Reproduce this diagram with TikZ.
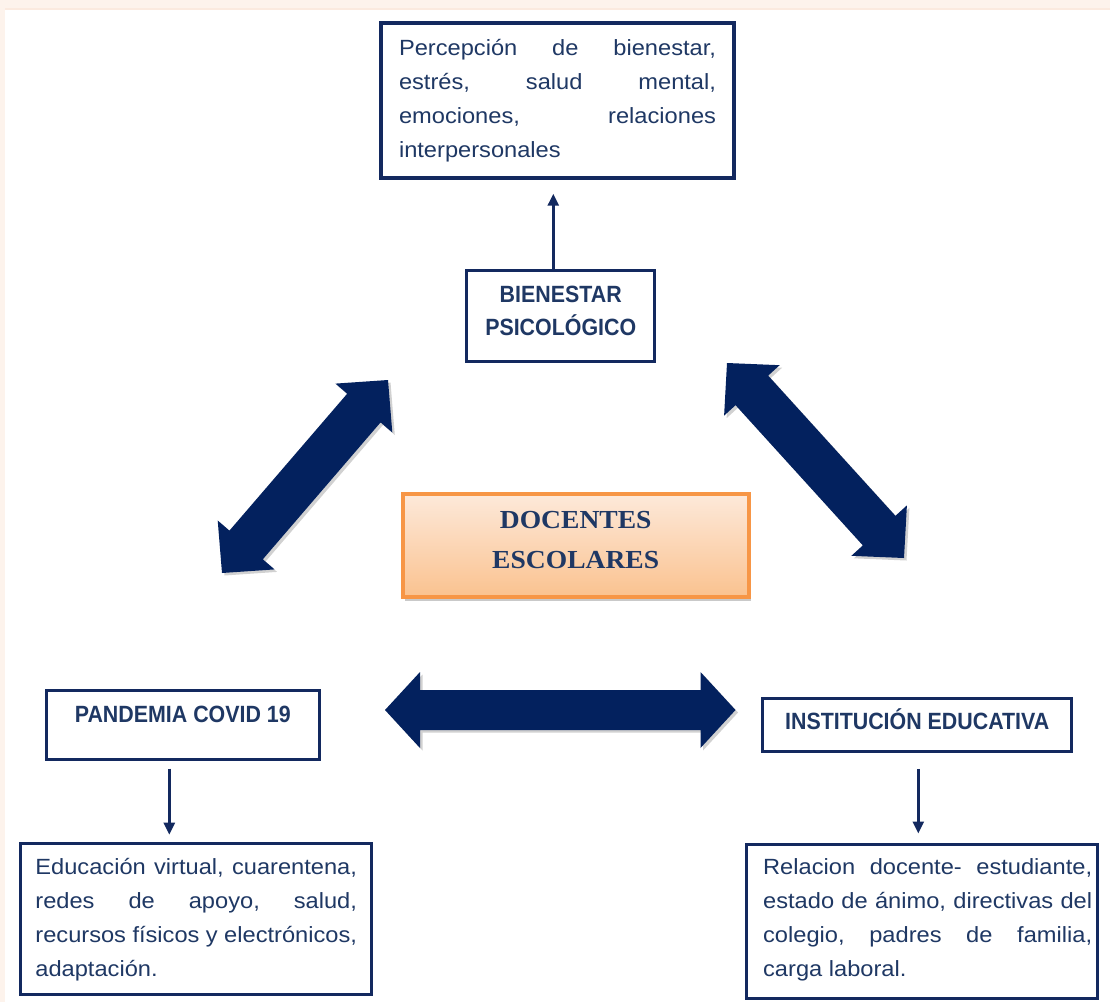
\documentclass[tikz,border=0pt]{standalone}
\usepackage{fontspec}
\setmainfont{Liberation Sans}
\newfontfamily\regfont[FakeStretch=1.075]{Liberation Sans}
\newfontfamily\boldlab[FakeStretch=0.91]{Liberation Sans}
\newfontfamily\serifbold[FakeStretch=1.06]{Liberation Serif}
\usetikzlibrary{calc,arrows.meta,shadows}
\definecolor{navyline}{HTML}{13295F}
\definecolor{navytext}{HTML}{1F3864}
\definecolor{bigarrow}{HTML}{03215E}
\definecolor{orangeline}{HTML}{F79646}
\definecolor{peachtop}{HTML}{FDE9DA}
\definecolor{peachbot}{HTML}{FAC28F}
\definecolor{bandpeach}{HTML}{FDF3EC}
\definecolor{bandline}{HTML}{FBEADF}
\newcommand\dblarrow[5]{%
  \coordinate (#1h) at ($(#1)!#3!(#2)$);
  \coordinate (#2h) at ($(#2)!#3!(#1)$);
  \begin{scope}[transform canvas={xshift=2.5pt,yshift=-2.5pt}]
  \fill[black,opacity=0.18] (#1) -- ($(#1h)!#4!90:(#2)$) -- ($(#1h)!#5!90:(#2)$) -- ($(#2h)!#5!-90:(#1)$) -- ($(#2h)!#4!-90:(#1)$) -- (#2) -- ($(#2h)!#4!90:(#1)$) -- ($(#2h)!#5!90:(#1)$) -- ($(#1h)!#5!-90:(#2)$) -- ($(#1h)!#4!-90:(#2)$) -- cycle;
  \end{scope}
  \fill[bigarrowfill] (#1) -- ($(#1h)!#4!90:(#2)$) -- ($(#1h)!#5!90:(#2)$) -- ($(#2h)!#5!-90:(#1)$) -- ($(#2h)!#4!-90:(#1)$) -- (#2) -- ($(#2h)!#4!90:(#1)$) -- ($(#2h)!#5!90:(#1)$) -- ($(#1h)!#5!-90:(#2)$) -- ($(#1h)!#4!-90:(#2)$) -- cycle;
}
\tikzset{
  plainbox/.style={draw=navyline, line width=3pt, fill=white, inner ysep=0pt},
  bodytext/.style={text=navytext, font=\regfont\fontsize{22}{34}\selectfont},
  labeltext/.style={text=navytext, font=\boldlab\bfseries\fontsize{23.5}{33.4}\selectfont},
  thinarrow/.style={draw=navyline, line width=2.7pt, -{Triangle[length=12pt,width=11pt]}},
  bigarrowfill/.style={fill=bigarrow},
}
\begin{document}
\begin{tikzpicture}[x=1pt,y=-1pt]
\useasboundingbox (0,0) rectangle (1110,1002);
\fill[white] (0,0) rectangle (1110,1002);
\fill[bandpeach] (0,0) rectangle (1110,10);
\fill[bandpeach] (0,0) rectangle (5,1002);
\fill[bandline] (5,7.5) rectangle (1110,10);

% top description box
\node[plainbox, line width=4pt, bodytext, anchor=base, inner xsep=17.7pt,
      text height=32.5pt, text depth=122.5pt] (percep) at (557.5,55.5)
  {\parbox[t]{317pt}{Percepción\hfill de\hfill bienestar,\\
   estrés,\hfill salud\hfill mental,\\
   emociones,\hfill relaciones\\
   interpersonales}};

% bienestar
\node[plainbox, labeltext, anchor=base, minimum width=188.5pt, inner xsep=0pt,
      text height=32.3pt, text depth=58.7pt] (bien) at (560.7,302.3)
  {\parbox[t]{180pt}{\centering BIENESTAR\\PSICOLÓGICO}};

% docentes
\node[anchor=base, draw=orangeline, line width=4pt, top color=peachtop, bottom color=peachbot,
      drop shadow={shadow xshift=2pt, shadow yshift=-3.5pt, opacity=0.35, fill=black!60},
      minimum width=346pt, inner xsep=0pt, inner ysep=0pt,
      text height=34.6pt, text depth=69pt, text=navytext] (doc) at (575.7,528.3)
  {\parbox[t]{320pt}{\centering\serifbold\bfseries\fontsize{26}{40}\selectfont DOCENTES\\ESCOLARES}};

% pandemia
\node[plainbox, labeltext, anchor=base, minimum width=272.7pt, inner xsep=0pt,
      text height=31.5pt, text depth=37.2pt] (pand) at (182.8,722) {PANDEMIA COVID 19};

% institucion
\node[plainbox, labeltext, anchor=base, minimum width=309.3pt, inner xsep=0pt,
      text height=30.8pt, text depth=22.8pt] (inst) at (917.2,729) {INSTITUCIÓN EDUCATIVA};

% bottom left
\node[plainbox, bodytext, anchor=base, inner xsep=14.9pt,
      text height=31.1pt, text depth=119.9pt] (edu) at (196.2,874.3)
  {\parbox[t]{321.6pt}{Educación\hfill virtual,\hfill cuarentena,\\
   redes\hfill de\hfill apoyo,\hfill salud,\\
   recursos\hfill físicos\hfill y\hfill electrónicos,\\
   adaptación.}};

% bottom right
\node[plainbox, bodytext, anchor=base, inner xsep=5.65pt,
      text height=29.5pt, text depth=124.2pt] (rel) at (922.15,874.3)
  {\hspace*{11pt}\parbox[t]{329pt}{Relacion\hfill docente-\hfill estudiante,\\
   estado\hfill de\hfill ánimo,\hfill directivas\hfill del\\
   colegio,\hfill padres\hfill de\hfill familia,\\
   carga laboral.}};

% thin arrows
\draw[thinarrow, shorten >=13.7pt] ($(bien.north)+(-7.4,0)$) -- ($(bien.north |- percep.south)+(-7.4,0)$);
\draw[thinarrow, shorten <=8pt, shorten >=7pt] ($(pand.south)+(-13.5,0)$) -- ($(pand.south |- edu.north)+(-13.5,0)$);
\draw[thinarrow, shorten <=15.5pt, shorten >=9.8pt] ($(inst.south)+(1.1,0)$) -- ($(inst.south |- rel.north)+(1.1,0)$);

% big double arrows
\coordinate (hl) at (385,710);
\coordinate (hr) at (735.5,710);
\coordinate (dla) at (222,573);
\coordinate (dlb) at (388,380);
\coordinate (dra) at (727,363);
\coordinate (drb) at (904,558);
\dblarrow{hl}{hr}{35pt}{38pt}{20pt}
\dblarrow{dla}{dlb}{37pt}{37.5pt}{22pt}
\dblarrow{dra}{drb}{37pt}{37.5pt}{22pt}
\end{tikzpicture}
\end{document}
